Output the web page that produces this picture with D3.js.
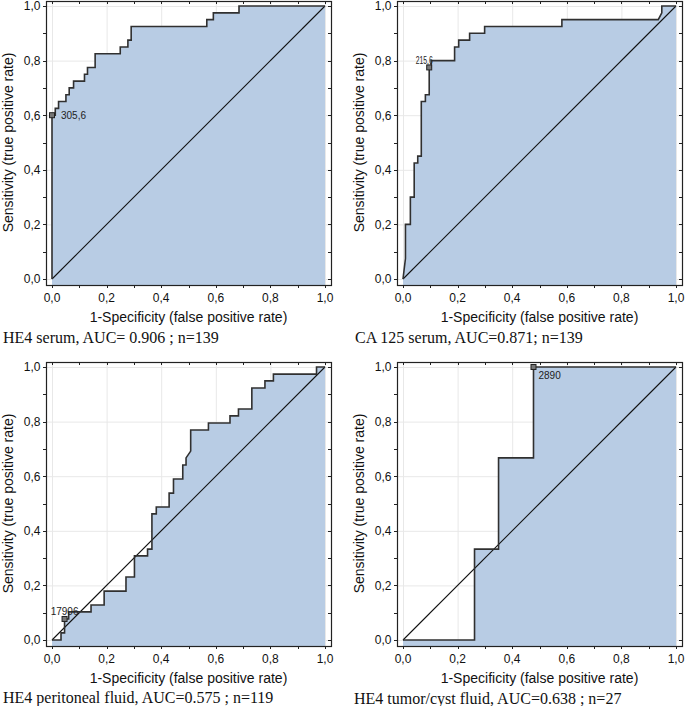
<!DOCTYPE html>
<html><head><meta charset="utf-8">
<script src="https://cdn.jsdelivr.net/npm/d3@7"></script>
<style>body{margin:0;background:#fff}</style>
</head><body>
<svg id="chart" width="685" height="706"></svg>
<script>
// ---------- data ----------
const he4SerumFpr = [0, 0, 0.012, 0.012, 0.024, 0.024, 0.051, 0.051, 0.063, 0.063, 0.079, 0.079, 0.119, 0.119, 0.130, 0.130, 0.158, 0.158, 0.250, 0.250, 0.278, 0.278, 0.290, 0.290, 0.567, 0.567, 0.591, 0.591, 0.685, 0.685, 1.0];
const he4SerumTpr = [0, 0.6, 0.6, 0.625, 0.625, 0.65, 0.65, 0.675, 0.675, 0.7, 0.7, 0.725, 0.725, 0.75, 0.75, 0.775, 0.775, 0.825, 0.825, 0.85, 0.85, 0.875, 0.875, 0.925, 0.925, 0.95, 0.95, 0.975, 0.975, 1.0, 1.0];

const ca125Fpr = [0, 0.009, 0.009, 0.027, 0.027, 0.041, 0.041, 0.054, 0.054, 0.067, 0.067, 0.082, 0.082, 0.096, 0.096, 0.103, 0.103, 0.189, 0.189, 0.204, 0.204, 0.244, 0.244, 0.299, 0.299, 0.582, 0.582, 0.935, 0.948, 0.948, 1.0];
const ca125Tpr = [0, 0.075, 0.2, 0.2, 0.3, 0.3, 0.425, 0.425, 0.45, 0.45, 0.65, 0.65, 0.675, 0.675, 0.775, 0.775, 0.8, 0.8, 0.85, 0.85, 0.875, 0.875, 0.9, 0.9, 0.925, 0.925, 0.95, 0.95, 0.975, 1.0, 1.0];

const he4PeritonealFpr = [0, 0.033, 0.033, 0.046, 0.046, 0.061, 0.061, 0.143, 0.143, 0.191, 0.191, 0.271, 0.271, 0.302, 0.302, 0.350, 0.350, 0.366, 0.366, 0.382, 0.382, 0.429, 0.429, 0.445, 0.445, 0.479, 0.479, 0.491, 0.491, 0.508, 0.508, 0.573, 0.573, 0.652, 0.652, 0.683, 0.683, 0.732, 0.732, 0.780, 0.780, 0.811, 0.811, 0.969, 0.969, 1.0];
const he4PeritonealTpr = [0, 0, 0.026, 0.026, 0.077, 0.077, 0.103, 0.103, 0.128, 0.128, 0.179, 0.179, 0.231, 0.231, 0.308, 0.308, 0.333, 0.333, 0.462, 0.462, 0.487, 0.487, 0.538, 0.538, 0.590, 0.590, 0.641, 0.641, 0.667, 0.692, 0.769, 0.769, 0.795, 0.795, 0.821, 0.821, 0.846, 0.846, 0.923, 0.923, 0.949, 0.949, 0.974, 0.974, 1.0, 1.0];

const he4CystFpr = [0, 0.262, 0.262, 0.350, 0.350, 0.478, 0.478, 1.0];
const he4CystTpr = [0, 0, 0.333, 0.333, 0.667, 0.667, 1.0, 1.0];

const cutoffFpr = [0, 0.096, 0.046, 0.478];
const cutoffTpr = [0.6, 0.775, 0.077, 1.0];
const cutoffLabels = ["305,6", "215,6", "17906", "2890"];

const captions = [
  "HE4 serum, AUC= 0.906 ; n=139",
  "CA 125 serum, AUC=0.871; n=139",
  "HE4 peritoneal fluid, AUC=0.575 ; n=119",
  "HE4 tumor/cyst fluid, AUC=0.638 ; n=27"
];
const majorTicks = [0, 0.2, 0.4, 0.6, 0.8, 1.0];
const tickLabels = ["0,0", "0,2", "0,4", "0,6", "0,8", "1,0"];
const minorTicks = [0, 0.1, 0.2, 0.3, 0.4, 0.5, 0.6, 0.7, 0.8, 0.9, 1.0];
const xTitle = "1-Specificity (false positive rate)";
const yTitle = "Sensitivity (true positive rate)";

// ---------- layout ----------
const series = [
  {fpr: he4SerumFpr, tpr: he4SerumTpr},
  {fpr: ca125Fpr, tpr: ca125Tpr},
  {fpr: he4PeritonealFpr, tpr: he4PeritonealTpr},
  {fpr: he4CystFpr, tpr: he4CystTpr}
];
const offsets = [[0, 0], [351, 0], [0, 361], [351, 361]];
const captionPos = [[3, 343], [355, 343], [3, 703], [354, 704]];
const labelStyle = [
  {dx: 9, dy: 3.5, anchor: "start"},
  {dx: -5, dy: -3, anchor: "middle", len: 17},
  {dx: 0, dy: -4, anchor: "middle"},
  {dx: 5, dy: 12, anchor: "start"}
];

const x = d3.scaleLinear().domain([0, 1]).range([52, 325]);
const y = d3.scaleLinear().domain([0, 1]).range([279, 6]);
const frame = {x0: 46, x1: 331, y0: 1, y1: 285};
const fillColor = "#b8cce4";

const svg = d3.select("#chart");

series.forEach((s, i) => {
  const g = svg.append("g").attr("transform", `translate(${offsets[i][0]},${offsets[i][1]})`);
  const pts = s.fpr.map((f, k) => [f, s.tpr[k]]);

  // grid
  g.selectAll(".gx").data(majorTicks).join("line")
    .attr("x1", d => x(d) + 0.5).attr("x2", d => x(d) + 0.5)
    .attr("y1", frame.y0).attr("y2", frame.y1)
    .attr("stroke", "#e8e8e8").attr("stroke-width", 1);
  g.selectAll(".gy").data(majorTicks).join("line")
    .attr("y1", d => y(d) + 0.5).attr("y2", d => y(d) + 0.5)
    .attr("x1", frame.x0).attr("x2", frame.x1)
    .attr("stroke", "#e8e8e8").attr("stroke-width", 1);

  // fill area
  const area = d3.area().x(d => x(d[0])).y1(d => y(d[1])).y0(frame.y1);
  g.append("path").datum(pts).attr("d", area).attr("fill", fillColor);

  // diagonal
  g.append("line")
    .attr("x1", x(0)).attr("y1", y(0)).attr("x2", x(1)).attr("y2", y(1))
    .attr("stroke", "#111").attr("stroke-width", 1.1);

  // ROC curve
  const line = d3.line().x(d => x(d[0])).y(d => y(d[1]));
  g.append("path").datum(pts).attr("d", line)
    .attr("fill", "none").attr("stroke", "#303030").attr("stroke-width", 1.6)
    .attr("stroke-linejoin", "miter");

  // frame
  g.append("rect").attr("x", frame.x0 + 0.5).attr("y", frame.y0 + 0.5)
    .attr("width", frame.x1 - frame.x0).attr("height", frame.y1 - frame.y0)
    .attr("fill", "none").attr("stroke", "#222").attr("stroke-width", 1.2);

  // frame ticks
  minorTicks.forEach(t => {
    const px = Math.round(x(t)) + 0.5, py = Math.round(y(t)) + 0.5;
    g.append("line").attr("x1", px).attr("x2", px).attr("y1", frame.y1).attr("y2", frame.y1 + 3).attr("stroke", "#222");
    g.append("line").attr("x1", px).attr("x2", px).attr("y1", frame.y0).attr("y2", frame.y0 + 3).attr("stroke", "#222");
    g.append("line").attr("y1", py).attr("y2", py).attr("x1", frame.x0 - 3).attr("x2", frame.x0).attr("stroke", "#222");
    g.append("line").attr("y1", py).attr("y2", py).attr("x1", frame.x1 - 3).attr("x2", frame.x1).attr("stroke", "#222");
  });

  // tick labels
  g.selectAll(".xl").data(majorTicks).join("text")
    .attr("x", d => x(d)).attr("y", frame.y1 + 16.5)
    .attr("text-anchor", "middle").attr("font-family", "Liberation Sans, Arial, sans-serif")
    .attr("font-size", 12).attr("fill", "#111")
    .text((d, k) => tickLabels[k]);
  g.selectAll(".yl").data(majorTicks).join("text")
    .attr("x", frame.x0 - 5.5).attr("y", d => y(d) + 4.3)
    .attr("text-anchor", "end").attr("font-family", "Liberation Sans, Arial, sans-serif")
    .attr("font-size", 12).attr("fill", "#111")
    .text((d, k) => tickLabels[k]);

  // axis titles
  g.append("text").attr("x", (x(0) + x(1)) / 2).attr("y", 321.5)
    .attr("text-anchor", "middle").attr("font-family", "Liberation Sans, Arial, sans-serif")
    .attr("font-size", 14).attr("fill", "#111").text(xTitle);
  g.append("text").attr("transform", `translate(13,${(y(0) + y(1)) / 2}) rotate(-90)`)
    .attr("text-anchor", "middle").attr("font-family", "Liberation Sans, Arial, sans-serif")
    .attr("font-size", 14).attr("fill", "#111").text(yTitle);

  // cutoff marker
  const mx = x(cutoffFpr[i]), my = y(cutoffTpr[i]);
  g.append("rect").attr("x", mx - 2.5).attr("y", my - 2.5).attr("width", 5).attr("height", 5)
    .attr("fill", "#777").attr("stroke", "#222").attr("stroke-width", 1);
  const ls = labelStyle[i];
  const lt = g.append("text").attr("x", mx + ls.dx).attr("y", my + ls.dy)
    .attr("text-anchor", ls.anchor).attr("font-family", "Liberation Sans, Arial, sans-serif")
    .attr("font-size", 10).attr("fill", "#222").text(cutoffLabels[i]);
  if (ls.len) lt.attr("textLength", ls.len).attr("lengthAdjust", "spacingAndGlyphs");
});

// captions
svg.selectAll(".cap").data(captions).join("text")
  .attr("x", (d, i) => captionPos[i][0]).attr("y", (d, i) => captionPos[i][1])
  .attr("font-family", "Liberation Serif, Times New Roman, serif")
  .attr("font-size", 16).attr("fill", "#111")
  .text(d => d);
</script>
</body></html>
